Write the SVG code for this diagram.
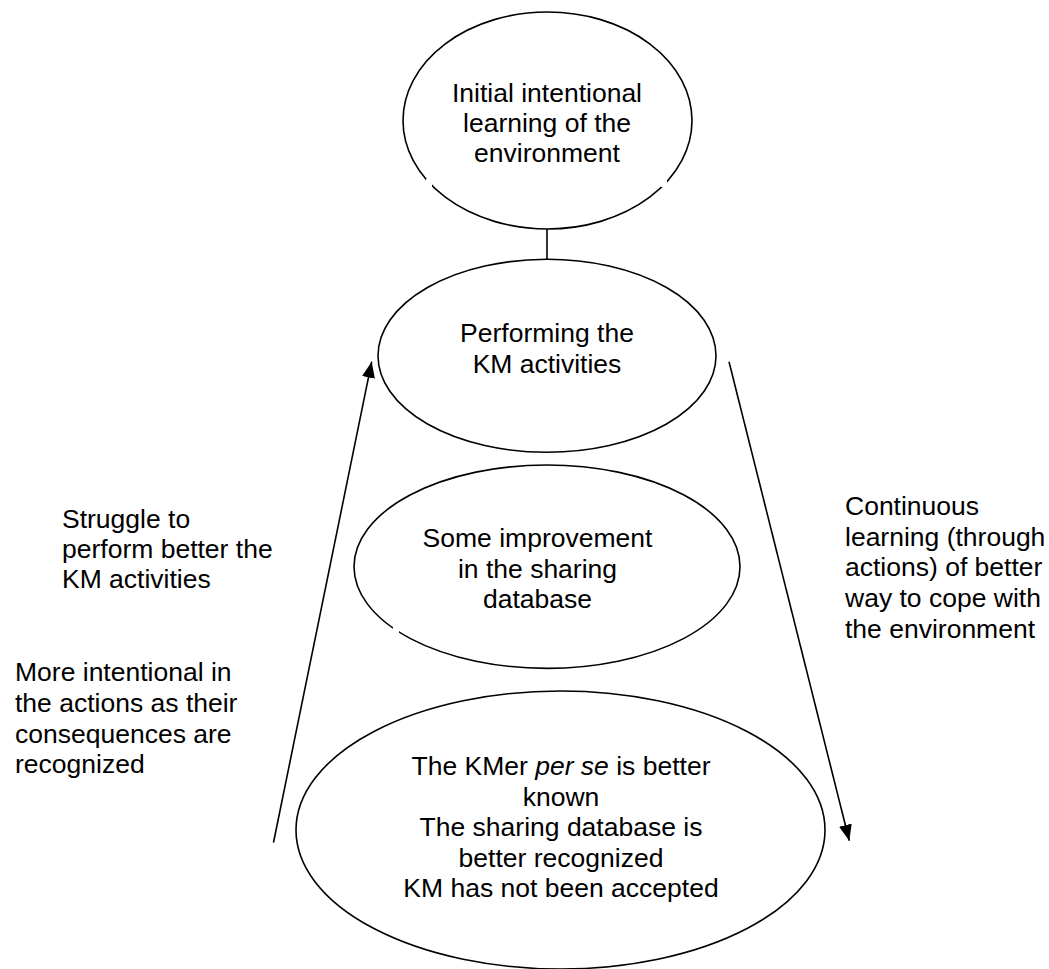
<svg xmlns="http://www.w3.org/2000/svg" width="1049" height="969" viewBox="0 0 1049 969">
<style>
  .node ellipse { fill: #ffffff; stroke: #000000; stroke-width: 1.6; }
  .t { font-family: "Liberation Sans", Arial, sans-serif; font-size: 26.5px; fill: #000000; }
  .c { text-anchor: middle; }
  .conn line { stroke: #000000; stroke-width: 1.6; fill: none; }
  .gap { fill: #ffffff; stroke: none; }
</style>
<defs>
  <marker id="arrow" markerUnits="userSpaceOnUse" markerWidth="17" markerHeight="14" refX="16" refY="6.5" orient="auto">
    <path d="M0,0 L16,6.5 L0,13 z" fill="#000000"/>
  </marker>
</defs>
<rect x="0" y="0" width="1049" height="969" fill="#ffffff"/>

<g id="connectors" class="conn">
  <line x1="547" y1="229" x2="547" y2="259"/>
  <line x1="273.5" y1="842.5" x2="371.7" y2="361.7" marker-end="url(#arrow)"/>
  <line x1="729" y1="361.7" x2="849.3" y2="840.7" marker-end="url(#arrow)"/>
</g>

<g id="node-initial" class="node">
  <ellipse cx="547.5" cy="120.5" rx="144.5" ry="108.5"/>
  <rect class="gap" x="426" y="179" width="6" height="8"/>
  <rect class="gap" x="661" y="180" width="6" height="7"/>
  <text class="t c" x="547" y="101.5">Initial intentional</text>
  <text class="t c" x="547" y="131.5">learning of the</text>
  <text class="t c" x="547" y="161.5">environment</text>
</g>

<g id="node-performing" class="node">
  <ellipse cx="547" cy="355.8" rx="169" ry="96.5"/>
  <text class="t c" x="547" y="342">Performing the</text>
  <text class="t c" x="547" y="372.5">KM activities</text>
</g>

<g id="node-improvement" class="node">
  <ellipse cx="547" cy="566.7" rx="193" ry="101.7"/>
  <rect class="gap" x="393" y="626" width="6" height="8"/>
  <text class="t c" x="537.5" y="547">Some improvement</text>
  <text class="t c" x="537.5" y="577.5">in the sharing</text>
  <text class="t c" x="537.5" y="608">database</text>
</g>

<g id="node-kmer" class="node">
  <ellipse cx="560.5" cy="830" rx="264.5" ry="139"/>
  <text class="t c" x="561" y="775">The KMer <tspan font-style="italic">per se</tspan> is better</text>
  <text class="t c" x="561" y="806">known</text>
  <text class="t c" x="561" y="836">The sharing database is</text>
  <text class="t c" x="561" y="866.5">better recognized</text>
  <text class="t c" x="561" y="897">KM has not been accepted</text>
</g>

<g id="label-struggle">
  <text class="t" x="62" y="527.5">Struggle to</text>
  <text class="t" x="62" y="557.5">perform better the</text>
  <text class="t" x="62" y="587.5">KM activities</text>
</g>

<g id="label-more">
  <text class="t" x="15" y="681">More intentional in</text>
  <text class="t" x="15" y="711.5">the actions as their</text>
  <text class="t" x="15" y="742.5">consequences are</text>
  <text class="t" x="15" y="773">recognized</text>
</g>

<g id="label-continuous">
  <text class="t" x="845" y="515">Continuous</text>
  <text class="t" x="845" y="545.5">learning (through</text>
  <text class="t" x="845" y="576">actions) of better</text>
  <text class="t" x="845" y="606.5">way to cope with</text>
  <text class="t" x="845" y="637.5">the environment</text>
</g>
</svg>
